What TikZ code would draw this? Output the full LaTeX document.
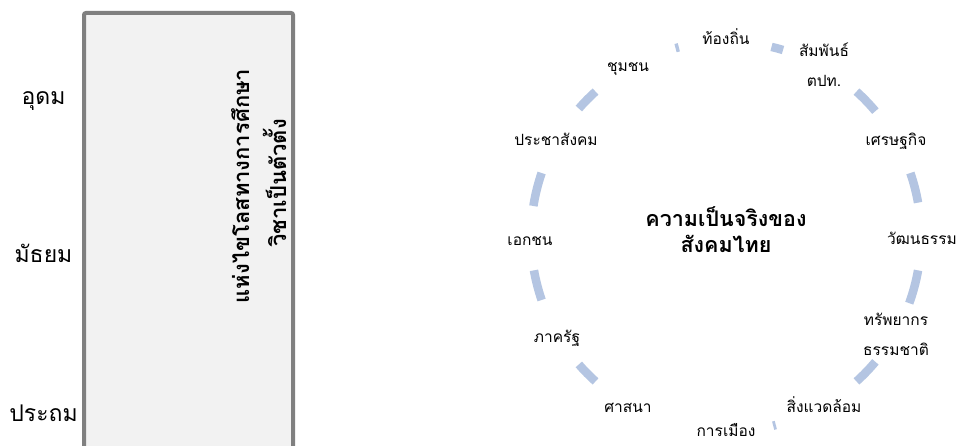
\documentclass[tikz,border=0pt]{standalone}
\usepackage{fontspec}
\setmainfont[Script=Thai]{Loma}
\begin{document}
\begin{tikzpicture}[x=1pt,y=1pt,
  lbl/.style={font=\fontsize{15.5}{30}\selectfont,anchor=base,inner sep=0pt,align=center},
  lvl/.style={font=\fontsize{23}{26}\selectfont,anchor=base,inner sep=0pt},
  vert/.style={font=\bfseries\fontsize{22}{24}\selectfont,anchor=base,inner sep=0pt,rotate=90},
  ttl/.style={font=\bfseries\fontsize{21.5}{26}\selectfont,anchor=base,inner sep=0pt,align=center},
  band/.style={draw=arcblue,line width=8.5pt,line cap=butt}]
\definecolor{arcblue}{RGB}{180,197,226}
\definecolor{boxgray}{RGB}{128,128,128}
\definecolor{boxfill}{RGB}{242,242,242}
\clip (0,0) rectangle (959,446);
\fill[white] (0,0) rectangle (959,446);
% left box
\draw[draw=boxgray,fill=boxfill,line width=4pt,rounded corners=2pt] (84,-10) rectangle (293,433);
\node[vert] (v1) at (249,260) {แห่งไขโลสทางการศึกษา};
\node[vert] (v2) at (286,263) {วิชาเป็นตัวตั้ง};
% levels
\node[lvl] (l1) at (43.5,341) {อุดม};
\node[lvl] (l2) at (43.5,183) {มัธยม};
\node[lvl] (l3) at (43.5,24) {ประถม};
% cycle
\coordinate (c) at (726,209.5);
\def\R{195}
\foreach \a/\b in {104/105,73/76.5,40/48,10/19,-20/-10,-48/-40,-76/-75.2,-139/-132,-170/-161,161/171,132/139}
  \draw[band] ([shift={(\a:\R)}]c) arc[start angle=\a,end angle=\b,radius=\R];
\node[ttl] (t) at (726,193) {ความเป็นจริงของ\\สังคมไทย};
\node[lbl] (n1) at (726,401) {ท้องถิ่น};
\node[lbl] (n2) at (824,359) {สัมพันธ์\\ตปท.};
\node[lbl] (n3) at (896,300) {เศรษฐกิจ};
\node[lbl] (n4) at (922,201) {วัฒนธรรม};
\node[lbl] (n5) at (896,90) {ทรัพยากร\\ธรรมชาติ};
\node[lbl] (n6) at (824,33) {สิ่งแวดล้อม};
\node[lbl] (n7) at (726,9) {การเมือง};
\node[lbl] (n8) at (628,33) {ศาสนา};
\node[lbl] (n9) at (557,103) {ภาครัฐ};
\node[lbl] (n10) at (530,200) {เอกชน};
\node[lbl] (n11) at (556,300) {ประชาสังคม};
\node[lbl] (n12) at (628,374) {ชุมชน};
\end{tikzpicture}
\end{document}
